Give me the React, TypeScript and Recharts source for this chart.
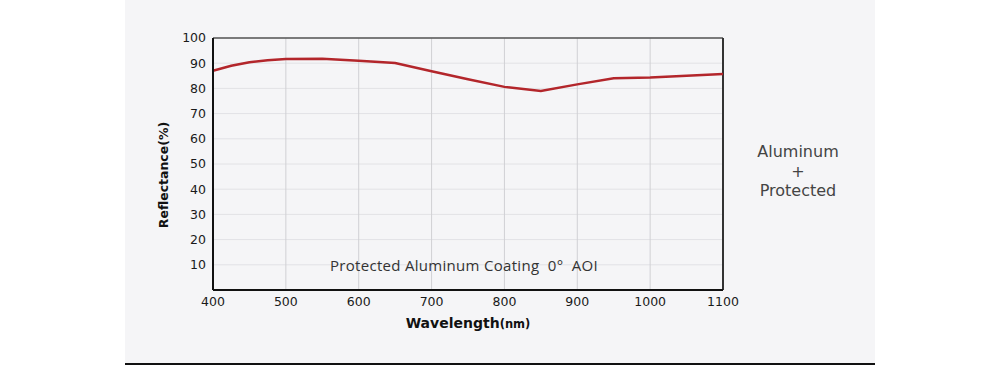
import React from 'react';
import {
  LineChart,
  Line,
  XAxis,
  YAxis,
  CartesianGrid,
  ReferenceLine,
  Label
} from 'recharts';

const wavelength = [400, 425, 450, 475, 500, 550, 600, 650, 700, 750, 800, 850, 900, 950, 1000, 1050, 1100];
const reflectance = [87, 89, 90.4, 91.2, 91.7, 91.8, 91, 90.1, 86.8, 83.6, 80.6, 79, 81.6, 84, 84.3, 85, 85.7];
const xTicks = [400, 500, 600, 700, 800, 900, 1000, 1100];
const yTicks = [10, 20, 30, 40, 50, 60, 70, 80, 90, 100];
// non-breaking spaces keep the double gaps (Recharts' Text collapses normal ones)
const coatingNote = 'Protected Aluminum Coating\u00a0\u00a00°\u00a0\u00a0AOI';
const sideNote = ['Aluminum', '+', 'Protected'];

const data = wavelength.map((wl, i) => ({ wl, r: reflectance[i] }));

const tickStyle = { fill: '#1a1a1a', fontSize: 12.5, fontFamily: '"DejaVu Sans", sans-serif' };

const YTitle = ({ viewBox }: any) => {
  const cx = viewBox.x + 10;
  const cy = viewBox.y + viewBox.height / 2 + 11;
  return (
    <text
      x={cx}
      y={cy}
      transform={`rotate(-90, ${cx}, ${cy})`}
      textAnchor="middle"
      dominantBaseline="central"
      fontFamily='"DejaVu Sans", sans-serif'
      fontWeight="bold"
      fontSize={12.5}
      fill="#111"
    >
      Reflectance(%)
    </text>
  );
};

const XTitle = ({ viewBox }: any) => (
  <text
    x={viewBox.x + viewBox.width / 2}
    y={viewBox.y + 38}
    textAnchor="middle"
    fontFamily='"DejaVu Sans", sans-serif'
    fontWeight="bold"
    fill="#111"
  >
    <tspan fontSize={14}>Wavelength</tspan>
    <tspan fontSize={11.5}>(nm)</tspan>
  </text>
);

export default function App() {
  return (
    <div style={{ position: 'absolute', left: 0, top: 0, width: 1000, height: 365, background: '#fff' }}>
      <div
        style={{
          position: 'absolute',
          left: 125,
          top: 0,
          width: 750,
          height: 363,
          background: '#f5f5f7',
          borderBottom: '2px solid #111'
        }}
      />
      <div style={{ position: 'absolute', left: 0, top: 0 }}>
        <LineChart width={1000} height={365} data={data} margin={{ top: 38, right: 277, bottom: 45, left: 153 }}>
          <CartesianGrid vertical={false} stroke="#e2e2e5" strokeWidth={1} />
          <CartesianGrid horizontal={false} stroke="#d0d0d4" strokeWidth={1} />
          <XAxis
            dataKey="wl"
            type="number"
            domain={[400, 1100]}
            ticks={xTicks}
            interval={0}
            height={30}
            tickLine={false}
            tickSize={6}
            tickMargin={1}
            axisLine={{ stroke: '#111', strokeWidth: 2 }}
            tick={tickStyle}
          >
            <Label content={<XTitle />} />
          </XAxis>
          <YAxis
            type="number"
            domain={[0, 100]}
            ticks={yTicks}
            interval={0}
            width={60}
            tickLine={false}
            tickSize={6}
            tickMargin={1}
            axisLine={{ stroke: '#111', strokeWidth: 2 }}
            tick={tickStyle}
          >
            <Label content={<YTitle />} />
          </YAxis>
          <ReferenceLine y={100} stroke="#555" strokeWidth={1.5} />
          <ReferenceLine x={1100} stroke="#333" strokeWidth={2} />
          <ReferenceLine y={10} stroke="none">
            <Label
              value={coatingNote}
              position="center"
              dx={-4}
              dy={1}
              fill="#333"
              fontSize={15}
              fontFamily='"Open Sans", sans-serif'
              style={{ letterSpacing: '0.3px' }}
            />
          </ReferenceLine>
          <Line
            type="linear"
            dataKey="r"
            stroke="#b3262b"
            strokeWidth={2.5}
            dot={false}
            isAnimationActive={false}
          />
        </LineChart>
      </div>
      <div
        style={{
          position: 'absolute',
          left: 698,
          top: 142,
          width: 200,
          textAlign: 'center',
          fontFamily: '"DejaVu Sans", sans-serif',
          fontSize: 16,
          lineHeight: '19.5px',
          color: '#444'
        }}
      >
        {sideNote.map((s) => (
          <div key={s}>{s}</div>
        ))}
      </div>
    </div>
  );
}
